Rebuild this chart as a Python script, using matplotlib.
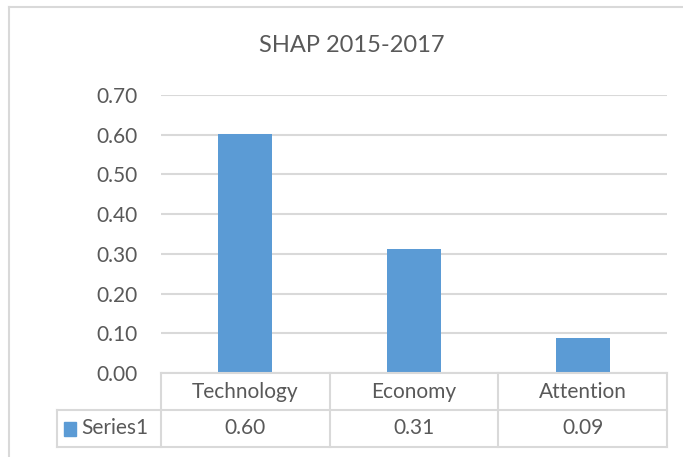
import matplotlib
matplotlib.use("Agg")
import matplotlib.pyplot as plt
from matplotlib.lines import Line2D
from matplotlib.patches import Rectangle

categories = ["Technology", "Economy", "Attention"]
values = [0.602, 0.311, 0.088]
table_values = [0.60, 0.31, 0.09]
series_name = "Series1"
title = "SHAP 2015-2017"
yticks = [0.0, 0.1, 0.2, 0.3, 0.4, 0.5, 0.6, 0.7]

W, H = 683, 457
BAR = "#5b9bd5"
GRID = "#d9d9d9"
TXT = "#595959"
FONT = ["Lato", "DejaVu Sans"]
plt.rcParams['font.family'] = FONT
FS = 15

fig = plt.figure(figsize=(W / 100, H / 100), dpi=100)

def fx(px):
    return px / W

def fy(py):
    return 1 - py / H

L, R, T, B = 161, 667, 95, 373
ax = fig.add_axes([fx(L), fy(B), fx(R) - fx(L), fy(T) - fy(B)])
x = list(range(len(categories)))
ax.bar(x, values, width=0.32, color=BAR, zorder=3)
ax.set_xlim(-0.5, len(categories) - 0.5)
ax.set_ylim(0, 0.7)
ax.set_yticks(yticks)
ax.set_yticklabels([f"{v:.2f}" for v in yticks], color=TXT, fontsize=FS)
ax.tick_params(axis='y', length=0, pad=17)
ax.set_xticks([])
ax.grid(axis='y', color=GRID, linewidth=1.5, zorder=0)
for s in ax.spines.values():
    s.set_visible(False)

fig.text(fx(W / 2 + 10), fy(45), title, ha='center', va='center', fontsize=17, color=TXT)

def hline(y, x0, x1):
    fig.add_artist(Line2D([fx(x0), fx(x1)], [fy(y), fy(y)], color=GRID, lw=1.5))

def vline(xp, y0, y1):
    fig.add_artist(Line2D([fx(xp), fx(xp)], [fy(y0), fy(y1)], color=GRID, lw=1.5))

# outer chart border
hline(7, 9, W)
vline(9, 7, H)

# data table
r0, r1, r2 = 373, 410, 447
c_left = 57
cols = [L + i * (R - L) / len(categories) for i in range(len(categories) + 1)]
hline(r0, L, R)
hline(r1, c_left, R)
hline(r2, c_left, R)
for i, c in enumerate(cols):
    vline(c, r0, r2)
vline(c_left, r1, r2)

for i, (cat, val) in enumerate(zip(categories, table_values)):
    cx = (cols[i] + cols[i + 1]) / 2
    fig.text(fx(cx), fy((r0 + r1) / 2), cat, ha='center', va='center', fontsize=FS, color=TXT)
    fig.text(fx(cx), fy((r1 + r2) / 2), f"{val:.2f}", ha='center', va='center', fontsize=FS, color=TXT)

fig.add_artist(Rectangle((fx(64), fy(436)), fx(12), fy(422) - fy(436), color=BAR))
fig.text(fx(81), fy((r1 + r2) / 2), series_name, ha='left', va='center', fontsize=FS, color=TXT)

fig.savefig("out.png", dpi=100)
